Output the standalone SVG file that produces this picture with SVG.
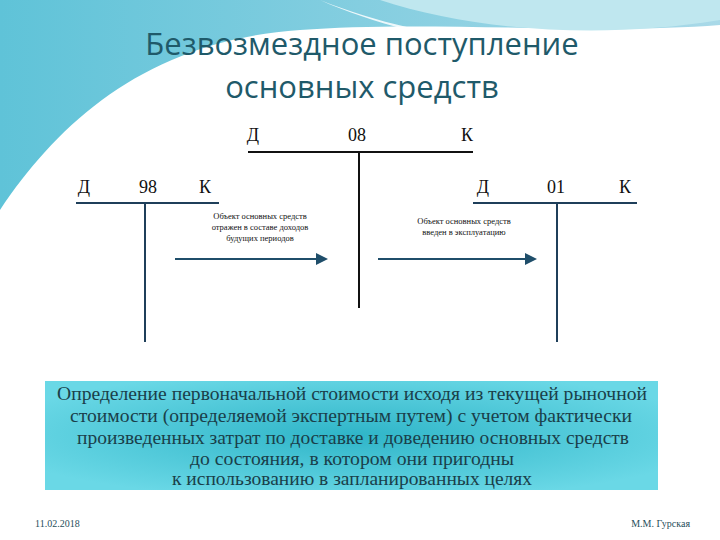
<svg xmlns="http://www.w3.org/2000/svg" width="720" height="540" viewBox="0 0 720 540">
<defs>
<linearGradient id="w1" x1="0" y1="0" x2="1" y2="0"><stop offset="0" stop-color="#5fc3d8"/><stop offset="1" stop-color="#a9d9e8"/></linearGradient>
<radialGradient id="box" cx="0.5" cy="0.5" r="0.6"><stop offset="0" stop-color="#2fb5c8"/><stop offset="1" stop-color="#6ad8e6"/></radialGradient>
<marker id="ar" markerWidth="6" markerHeight="6" refX="5" refY="3" orient="auto"><path d="M0,0 L6,3 L0,6 z" fill="#1f4e6a"/></marker>
<style>
.t{font-family:"Liberation Serif",serif;fill:#111}
.s{font-family:"Liberation Serif",serif;font-size:8.5px;fill:#111;text-anchor:middle}
.l{stroke:#111;stroke-width:2}
.c{stroke:#1f3f5a;stroke-width:2}
.a{stroke:#1f4e6a;stroke-width:2;marker-end:url(#ar)}
</style>
</defs>
<rect width="720" height="540" fill="#fff"/>
<path d="M0,0 H720 V25 C600,35 420,20 300,30 C150,40 60,120 0,210 Z" fill="url(#w1)"/>
<path d="M320,0 C420,40 520,50 720,40 V60 C560,60 420,45 320,0 Z" fill="#fff" opacity="0.85"/>
<path d="M380,0 C470,30 600,40 720,20 V0 Z" fill="#bfe7ef"/>
<path d="M0,250 C40,140 160,80 300,75 L260,85 C150,100 60,160 0,250 Z" fill="#fff" opacity="0.5"/>
<g id="title" font-family="'Open Sans','DejaVu Sans',sans-serif" font-size="31" fill="#1f5a6a" text-anchor="middle">
<text x="362" y="55">Безвозмездное поступление</text>
<text x="362" y="98">основных средств</text>
</g>
<g id="acc08">
<line class="l" x1="248" y1="152" x2="473" y2="152"/>
<line class="l" x1="359" y1="152" x2="359" y2="308"/>
<text class="t" x="253" y="141" font-size="18" text-anchor="middle">Д</text>
<text class="t" x="357" y="141" font-size="18" text-anchor="middle">08</text>
<text class="t" x="467" y="141" font-size="18" text-anchor="middle">К</text>
</g>
<g id="acc98">
<line class="c" x1="76" y1="203" x2="175" y2="203" stroke-width="1"/>
<line class="c" x1="175" y1="203" x2="219" y2="203" stroke-width="3"/>
<line class="c" x1="145" y1="203" x2="145" y2="342"/>
<text class="t" x="84" y="193" font-size="18" text-anchor="middle">Д</text>
<text class="t" x="148" y="193" font-size="18" text-anchor="middle">98</text>
<text class="t" x="205" y="193" font-size="18" text-anchor="middle">К</text>
</g>
<g id="acc01">
<line class="c" x1="473" y1="203" x2="585" y2="203" stroke-width="1"/>
<line class="c" x1="585" y1="203" x2="637" y2="203" stroke-width="3"/>
<line class="c" x1="557" y1="203" x2="557" y2="342"/>
<text class="t" x="483" y="193" font-size="18" text-anchor="middle">Д</text>
<text class="t" x="556" y="193" font-size="18" text-anchor="middle">01</text>
<text class="t" x="625" y="193" font-size="18" text-anchor="middle">К</text>
</g>
<g id="connectors">
<line class="a" x1="175" y1="259" x2="326" y2="259"/>
<line class="a" x1="378" y1="259" x2="535" y2="259"/>
</g>
<g id="labels">
<text class="s" x="260" y="219">Объект основных средств</text>
<text class="s" x="260" y="230">отражен в составе доходов</text>
<text class="s" x="260" y="241">будущих периодов</text>
<text class="s" x="464" y="224">Объект основных средств</text>
<text class="s" x="464" y="235">введен в эксплуатацию</text>
</g>
<g id="note">
<rect x="45" y="381" width="613" height="109" fill="url(#box)"/>
<g font-family="'Liberation Serif',serif" font-size="18" fill="#1a3f4a" text-anchor="middle" lengthAdjust="spacingAndGlyphs">
<text x="352" y="400" textLength="590" lengthAdjust="spacingAndGlyphs">Определение первоначальной стоимости исходя из текущей рыночной</text>
<text x="351" y="422" textLength="562" lengthAdjust="spacingAndGlyphs">стоимости (определяемой экспертным путем) с учетом  фактически</text>
<text x="353" y="444" textLength="552" lengthAdjust="spacingAndGlyphs">произведенных затрат по доставке и доведению основных средств</text>
<text x="352" y="465" textLength="324" lengthAdjust="spacingAndGlyphs">до состояния, в котором они пригодны</text>
<text x="352" y="485" textLength="360" lengthAdjust="spacingAndGlyphs">к использованию в запланированных целях</text>
</g>
</g>
<g id="footer" font-family="'Liberation Serif',serif" font-size="10" fill="#1f4e5a">
<text x="35" y="527">11.02.2018</text>
<text x="690" y="527" text-anchor="end">М.М. Гурская</text>
</g>
</svg>
